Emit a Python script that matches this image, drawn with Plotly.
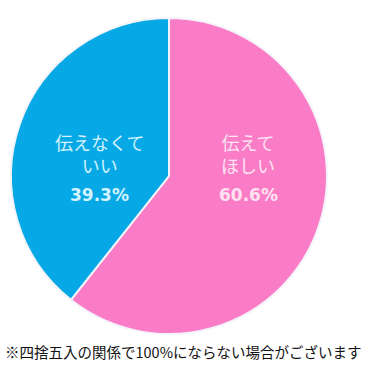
import plotly.graph_objects as go

labels = ["伝えて<br>ほしい", "伝えなくて<br>いい"]
values = [60.6, 39.3]
colors = ["#fb7cc6", "#07a8e6"]
text_colors = ["#fde3f2", "#d2f3ff"]
label_x = [248, 99]
footnote = "※四捨五入の関係で100%にならない場合がございます"

W, H = 371, 373
fig = go.Figure()
fig.add_trace(go.Pie(
    labels=labels, values=values, sort=False, direction="clockwise", rotation=0,
    marker=dict(colors=colors, line=dict(color="#f4f4fb", width=2)),
    textinfo="none", hoverinfo="label+value", showlegend=False,
    domain=dict(x=[10 / W, 328 / W], y=[(H - 334) / H, (H - 18) / H]),
))

font_family = "Noto Sans CJK JP, sans-serif"
for lab, val, tc, lx in zip(labels, values, text_colors, label_x):
    fig.add_annotation(x=lx / W, y=1 - 153 / H, xref="paper", yref="paper",
                       xanchor="center", yanchor="middle",
                       text=lab, showarrow=False, align="center",
                       font=dict(family=font_family, size=18, color=tc))
    fig.add_annotation(x=lx / W, y=1 - 195 / H, xref="paper", yref="paper",
                       xanchor="center", yanchor="middle",
                       text=f"<b>{val}%</b>", showarrow=False,
                       font=dict(family="DejaVu Sans, sans-serif", size=17, color=tc))

fig.add_annotation(x=183 / W, y=1 - 351 / H, xref="paper", yref="paper",
                   xanchor="center", yanchor="middle",
                   text=footnote, showarrow=False,
                   font=dict(family=font_family, size=14.5, color="#111111"))

fig.update_layout(width=W, height=H, margin=dict(l=0, r=0, t=0, b=0),
                  paper_bgcolor="white", plot_bgcolor="white")
fig.write_html("out.html", config={"displayModeBar": False},
               post_script="document.body.style.margin='0';")
